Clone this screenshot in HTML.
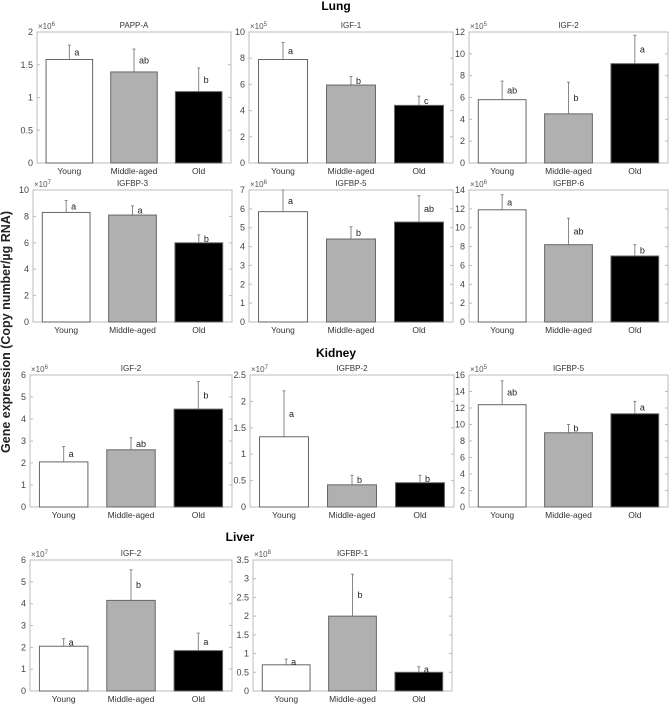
<!DOCTYPE html>
<html><head><meta charset="utf-8">
<style>
html,body{margin:0;padding:0;background:#fff;}
svg{display:block;font-family:"Liberation Sans",sans-serif;}
</style></head>
<body>
<svg id="fig" width="672" height="704" viewBox="0 0 672 704" xmlns="http://www.w3.org/2000/svg">
<text x="336" y="10" text-anchor="middle" font-size="12" font-weight="bold">Lung</text>
<text x="336" y="357" text-anchor="middle" font-size="12" font-weight="bold">Kidney</text>
<text x="240" y="541" text-anchor="middle" font-size="12" font-weight="bold">Liver</text>
<text transform="translate(10,332) rotate(-90)" text-anchor="middle" font-size="12.5" font-weight="bold" fill="#222">Gene expression (Copy number/µg RNA)</text>
</svg>
<script>
const categories = ["Young","Middle-aged","Old"];
const panelTitles = ["PAPP-A","IGF-1","IGF-2","IGFBP-3","IGFBP-5","IGFBP-6","IGF-2","IGFBP-2","IGFBP-5","IGF-2","IGFBP-1"];
const panelExp = [6,5,5,7,6,6,6,7,5,7,8];
const panelMax = [2,10,12,10,7,14,6,2.5,16,6,3.5];
const panelStep = [0.5,2,2,2,1,2,1,0.5,2,1,0.5];
const meanValues = [
 [1.58,1.39,1.09],[7.9,5.95,4.4],[5.8,4.5,9.1],
 [8.3,8.1,6.0],[5.85,4.4,5.3],[11.9,8.2,7.0],
 [2.05,2.6,4.45],[1.33,0.42,0.46],[12.4,9.0,11.3],
 [2.05,4.15,1.85],[0.7,2.0,0.5]];
const errorTops = [
 [1.8,1.74,1.45],[9.2,6.6,5.1],[7.5,7.4,11.7],
 [9.2,8.8,6.6],[7.0,5.05,6.7],[13.5,11.0,8.2],
 [2.75,3.15,5.7],[2.2,0.6,0.6],[15.3,10.0,12.8],
 [2.4,5.55,2.65],[0.85,3.12,0.65]];
const sigLetters = [
 ["a","ab","b"],["a","b","c"],["ab","b","a"],
 ["a","a","b"],["a","b","ab"],["a","ab","b"],
 ["a","ab","b"],["a","b","b"],["ab","b","a"],
 ["a","b","a"],["a","b","a"]];
const panelNames = ["lung-pappa","lung-igf1","lung-igf2","lung-igfbp3","lung-igfbp5","lung-igfbp6","kidney-igf2","kidney-igfbp2","kidney-igfbp5","liver-igf2","liver-igfbp1"];
// layout boxes [left, top, right, bottom]
const boxes = [
 [37,32,231,163],[249,32,453,163],[469,32,668,163],
 [33,190,232,322],[249,190,453,322],[469,190,668,322],
 [30,375,232,507],[250,375,454,507],[469,375,668,507],
 [30,560,232,691],[253,560,452,691]];
const fills = ["#fff","#b0b0b0","#000"];
const NS="http://www.w3.org/2000/svg";
const svg=document.getElementById("fig");
function mk(tag,attrs,parent){const e=document.createElementNS(NS,tag);for(const k in attrs)e.setAttribute(k,attrs[k]);(parent||svg).appendChild(e);return e;}
boxes.forEach((b,p)=>{
  const [L,T,R,B]=b;
  const g=mk("g",{});
  
  
  const y=v=>B-(v/panelMax[p])*(B-T);
  const x=i=>L+((i+0.5)/3)*(R-L);
  const bw=0.72/3*(R-L);
  const frame=mk("rect",{x:L,y:T,width:R-L,height:B-T,fill:"none",stroke:"#bdbdbd","stroke-width":1},g);
  
  
  const nT=Math.round(panelMax[p]/panelStep[p]);
  for(let k=0;k<=nT;k++){
    const v=k*panelStep[p];const yy=y(v);
    mk("line",{x1:L,x2:L+3,y1:yy,y2:yy,stroke:"#bbb"},g);
    mk("line",{x1:R,x2:R-3,y1:yy,y2:yy,stroke:"#bbb"},g);
    const t=mk("text",{x:L-4,y:yy+3,"text-anchor":"end","font-size":9,fill:"#444"},g);
    t.textContent=String(+v.toFixed(2));
    
    
  }
  const ex=mk("text",{x:L+1,y:T-3,"font-size":8,fill:"#555"},g);
  ex.textContent="×10";
  
  
  const es=mk("tspan",{dy:-3,"font-size":6},ex);es.textContent=panelExp[p];
  const tt=mk("text",{x:(L+R)/2,y:T-4,"text-anchor":"middle","font-size":8,fill:"#333"},g);
  tt.textContent=panelTitles[p];
  
  
  for(let i=0;i<3;i++){
    const cx=x(i),m=meanValues[p][i],e=errorTops[p][i];
    const el=mk("line",{x1:cx,x2:cx,y1:y(m),y2:y(e),stroke:"#888","stroke-width":1},g);
    
    
    mk("line",{x1:cx-1.5,x2:cx+1.5,y1:y(e),y2:y(e),stroke:"#888"},g);
    const r=mk("rect",{x:cx-bw/2,y:y(m),width:bw,height:B-y(m),fill:fills[i],stroke:"#666","stroke-width":1},g);
    
    
    const lt=mk("text",{x:cx+5,y:(y(m)+y(e))/2+3,"font-size":9,fill:"#222"},g);
    lt.textContent=sigLetters[p][i];
    
    
    const xl=mk("text",{x:cx,y:B+11,"text-anchor":"middle","font-size":8.5,fill:"#333"},g);
    xl.textContent=categories[i];
    
    
  }
});
</script>
</body></html>
